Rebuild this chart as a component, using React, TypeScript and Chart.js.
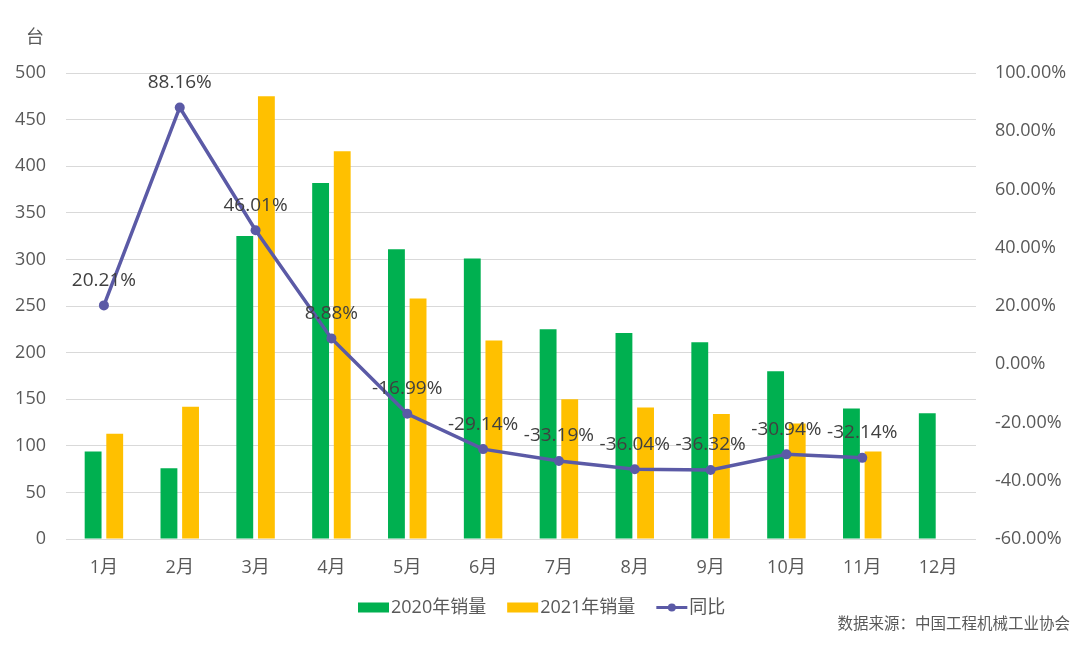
import React, { useEffect, useRef } from 'react';
import { Chart, registerables } from 'chart.js';

Chart.register(...registerables);

const FONT = "'Open Sans', 'Noto Sans CJK SC', sans-serif";

const categories = ['1月', '2月', '3月', '4月', '5月', '6月', '7月', '8月', '9月', '10月', '11月', '12月'];
const sales2020 = [94, 76, 325, 382, 311, 301, 225, 221, 211, 180, 140, 135];
const sales2021 = [113, 142, 475, 416, 258, 213, 150, 141, 134, 124, 94];
const yoy = [20.21, 88.16, 46.01, 8.88, -16.99, -29.14, -33.19, -36.04, -36.32, -30.94, -32.14];

const seriesNames = ['2020年销量', '2021年销量', '同比'];
const unitLabel = '台';
const sourceText = '数据来源：中国工程机械工业协会';

const GREEN = '#00B050';
const YELLOW = '#FFC000';
const PURPLE = '#5B5AA6';

const overlay = {
  id: 'overlay',
  afterDatasetsDraw(chart: any) {
    const ctx = chart.ctx;
    const meta = chart.getDatasetMeta(2);
    ctx.save();
    ctx.font = `19px ${FONT}`;
    ctx.fillStyle = '#404040';
    ctx.textAlign = 'center';
    ctx.textBaseline = 'middle';
    meta.data.forEach((pt: any, i: number) => {
      ctx.fillText(yoy[i].toFixed(2) + '%', pt.x, pt.y - 25);
    });
    ctx.restore();
  },
  afterDraw(chart: any) {
    const ctx = chart.ctx;
    ctx.save();
    // unit
    ctx.font = `18px ${FONT}`;
    ctx.fillStyle = '#595959';
    ctx.textAlign = 'center';
    ctx.textBaseline = 'middle';
    ctx.fillText(unitLabel, 35, 38);

    // legend
    const ly = 607.5;
    let x = 358;
    ctx.textAlign = 'left';
    ctx.font = `18px ${FONT}`;
    const colors = [GREEN, YELLOW, PURPLE];
    seriesNames.forEach((name, i) => {
      if (i < 2) {
        ctx.fillStyle = colors[i];
        ctx.fillRect(x, ly - 5, 31, 10);
      } else {
        ctx.strokeStyle = PURPLE;
        ctx.lineWidth = 3;
        ctx.beginPath();
        ctx.moveTo(x, ly);
        ctx.lineTo(x + 31, ly);
        ctx.stroke();
        ctx.fillStyle = PURPLE;
        ctx.beginPath();
        ctx.arc(x + 15.5, ly, 4, 0, Math.PI * 2);
        ctx.fill();
      }
      x += 33;
      ctx.fillStyle = '#595959';
      ctx.fillText(name, x, ly);
      x += ctx.measureText(name).width + 21;
    });

    // source
    ctx.font = `15.5px ${FONT}`;
    ctx.fillStyle = '#595959';
    ctx.textAlign = 'right';
    ctx.fillText(sourceText, 1070, 625);
    ctx.restore();
  },
};

export default function App() {
  const ref = useRef<HTMLCanvasElement>(null);

  useEffect(() => {
    document.body.style.margin = '0';
    const canvas = ref.current;
    if (!canvas) return;
    Chart.defaults.font.family = FONT;
    const chart = new Chart(canvas, {
      type: 'bar',
      data: {
        labels: categories,
        datasets: [
          {
            type: 'bar',
            label: seriesNames[0],
            data: sales2020,
            backgroundColor: GREEN,
            yAxisID: 'y',
            order: 2,
            categoryPercentage: 0.57,
            barPercentage: 0.78,
          },
          {
            type: 'bar',
            label: seriesNames[1],
            data: sales2021,
            backgroundColor: YELLOW,
            yAxisID: 'y',
            order: 2,
            categoryPercentage: 0.57,
            barPercentage: 0.78,
          },
          {
            type: 'line',
            label: seriesNames[2],
            data: yoy,
            borderColor: PURPLE,
            backgroundColor: PURPLE,
            borderWidth: 3.5,
            pointRadius: 5,
            pointHoverRadius: 5,
            pointBackgroundColor: PURPLE,
            pointBorderWidth: 0,
            tension: 0,
            yAxisID: 'y1',
            order: 0,
          } as any,
        ],
      },
      options: {
        animation: false,
        responsive: false,
        devicePixelRatio: 1,
        layout: { padding: { top: 73, left: 0, right: 0, bottom: 0 } },
        plugins: {
          legend: { display: false },
          tooltip: { enabled: false },
        },
        scales: {
          x: {
            grid: { display: false, drawTicks: false },
            border: { display: false },
            ticks: { color: '#595959', font: { size: 18, family: FONT }, padding: 18, maxRotation: 0 },
            afterFit(axis: any) {
              axis.height = 114;
            },
          },
          y: {
            position: 'left',
            min: 0,
            max: 500,
            ticks: { stepSize: 50, color: '#595959', font: { size: 18, family: FONT }, padding: 20 },
            grid: { color: '#D9D9D9', lineWidth: 1, drawTicks: false },
            border: { display: false },
            afterFit(axis: any) {
              axis.width = 66;
            },
          },
          y1: {
            position: 'right',
            min: -60,
            max: 100,
            ticks: {
              stepSize: 20,
              color: '#595959',
              font: { size: 18, family: FONT },
              padding: 19,
              callback: (v: any) => Number(v).toFixed(2) + '%',
            },
            grid: { display: false, drawTicks: false },
            border: { display: false },
            afterFit(axis: any) {
              axis.width = 104;
            },
          },
        },
      },
      plugins: [overlay],
    });
    return () => chart.destroy();
  }, []);

  return (
    <div style={{ width: 1080, height: 653, background: '#fff' }}>
      <canvas ref={ref} width={1080} height={653} style={{ width: 1080, height: 653, display: 'block' }} />
    </div>
  );
}
